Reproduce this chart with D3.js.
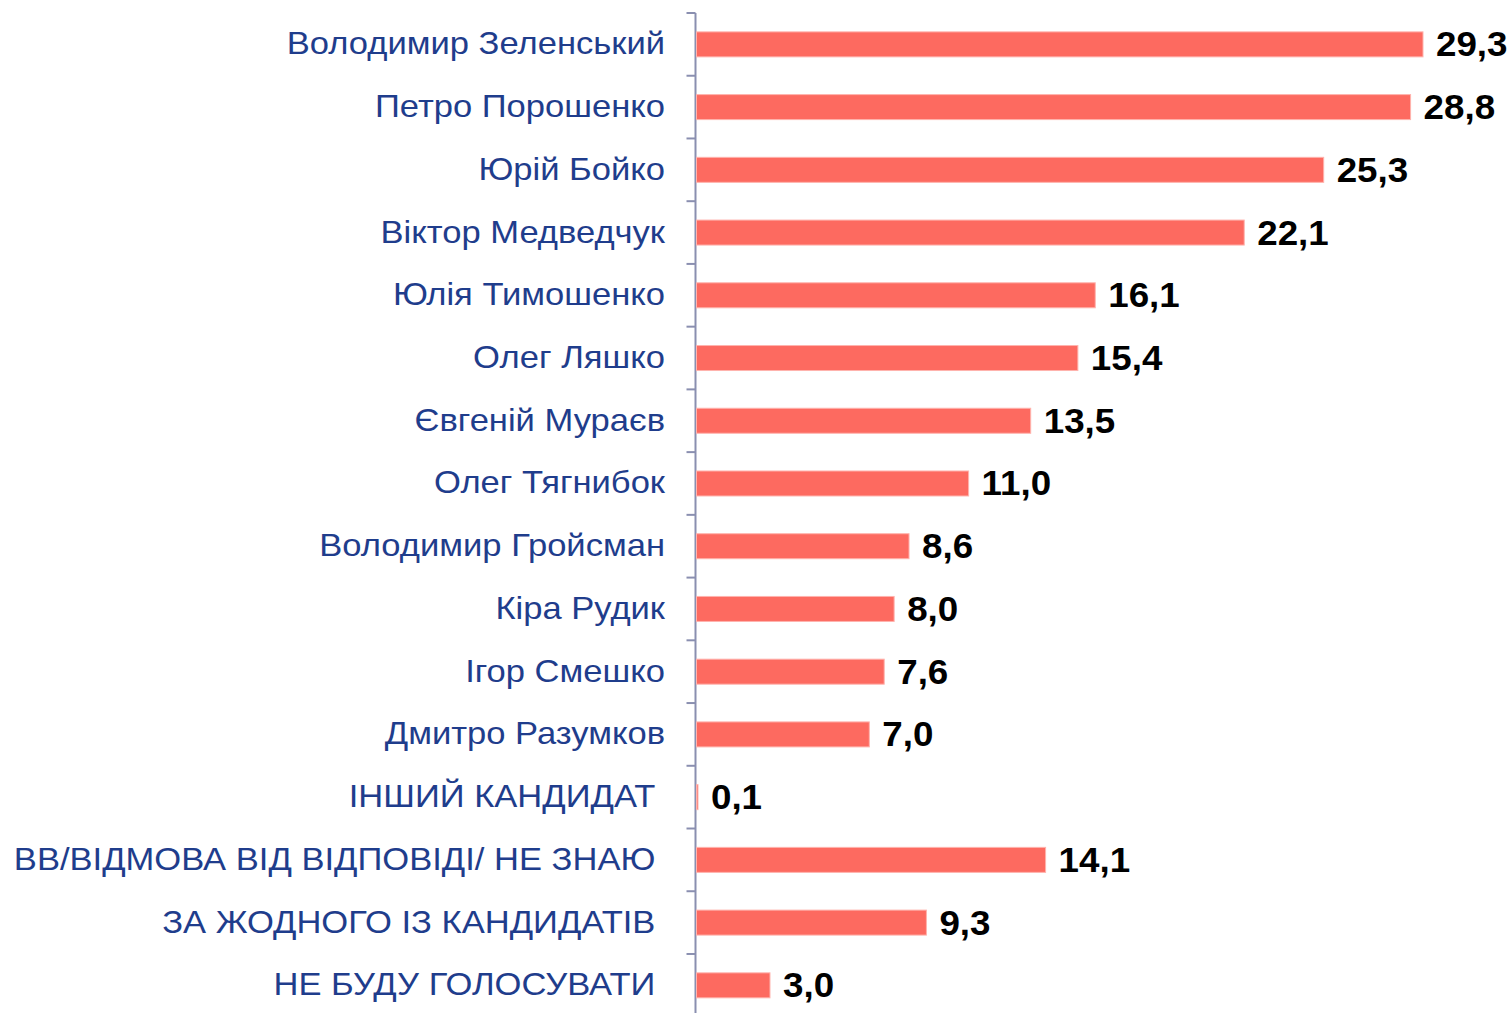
<!DOCTYPE html>
<html><head><meta charset="utf-8">
<script src="https://cdn.jsdelivr.net/npm/d3@7"></script>
<style>body{margin:0;background:#fff}svg text{white-space:pre}</style>
</head><body>
<script>
const categories = ["Володимир Зеленський","Петро Порошенко","Юрій Бойко","Віктор Медведчук","Юлія Тимошенко","Олег Ляшко","Євгеній Мураєв","Олег Тягнибок","Володимир Гройсман","Кіра Рудик","Ігор Смешко","Дмитро Разумков","ІНШИЙ КАНДИДАТ ","ВВ/ВІДМОВА ВІД ВІДПОВІДІ/ НЕ ЗНАЮ ","ЗА ЖОДНОГО ІЗ КАНДИДАТІВ ","НЕ БУДУ ГОЛОСУВАТИ "];
const values = [29.3,28.8,25.3,22.1,16.1,15.4,13.5,11.0,8.6,8.0,7.6,7.0,0.1,14.1,9.3,3.0];
const valueLabels = ["29,3","28,8","25,3","22,1","16,1","15,4","13,5","11,0","8,6","8,0","7,6","7,0","0,1","14,1","9,3","3,0"];

const W=1512,H=1013;
const svg=d3.select("body").append("svg").attr("width",W).attr("height",H);
const x0=695.5;
const x=d3.scaleLinear().domain([0,29.3]).range([x0,1423]);
const yb=d3.scaleBand().domain(categories).range([13,1016.7]);
const yc=c=>yb(c)+yb.bandwidth()/2;

const axisCol="#8a8fb0";
svg.append("line").attr("x1",x0).attr("x2",x0).attr("y1",13).attr("y2",1013).attr("stroke",axisCol).attr("stroke-width",2);
const bounds=categories.map(c=>yb(c));
svg.selectAll("line.tk").data(bounds).join("line").attr("class","tk")
 .attr("x1",x0-9).attr("x2",x0).attr("y1",d=>d).attr("y2",d=>d).attr("stroke",axisCol).attr("stroke-width",2);

svg.selectAll("rect.bar").data(values).join("rect").attr("class","bar")
 .attr("x",x0+1).attr("y",(d,i)=>yc(categories[i])-12.5)
 .attr("width",d=>Math.max(x(d)-x0-1,1.5)).attr("height",25)
 .attr("fill","#fd6a60").attr("stroke","#ffb3ad").attr("stroke-width",1);

svg.selectAll("text.cat").data(categories).join("text").attr("class","cat")
 .attr("transform",d=>`translate(665,${yc(d)+10}) scale(1.08,1)`)
 .attr("text-anchor","end").attr("font-family","Liberation Sans, Arial, sans-serif")
 .attr("font-size",32).attr("fill","#1f3d8c").text(d=>d);

svg.selectAll("text.val").data(values).join("text").attr("class","val")
 .attr("transform",(d,i)=>`translate(${x(d)+13},${yc(categories[i])+12}) scale(1.05,1)`)
 .attr("font-family","Liberation Sans, Arial, sans-serif").attr("font-weight","bold")
 .attr("font-size",35).attr("fill","#000").text((d,i)=>valueLabels[i]);
</script>
</body></html>
